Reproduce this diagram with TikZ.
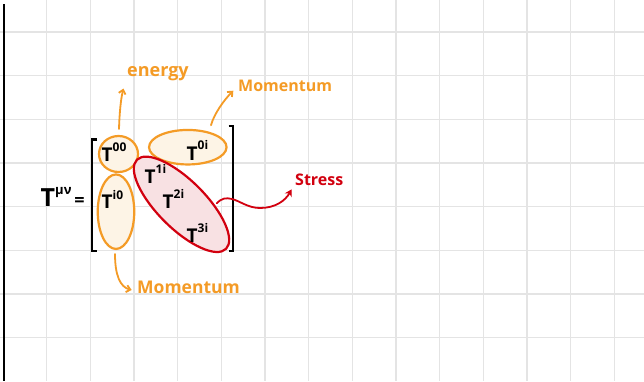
\documentclass[tikz,border=0pt]{standalone}
\usepackage{fontspec}
\setmainfont{Open Sans}
\usetikzlibrary{shapes.geometric,arrows.meta}
\definecolor{gridc}{HTML}{E4E4E4}
\definecolor{orng}{HTML}{F49B26}
\definecolor{cream}{HTML}{FDF4E6}
\definecolor{redd}{HTML}{D2000F}
\definecolor{pinkf}{HTML}{F8E1E3}
\newcommand\Tsup[2][10pt]{T\raisebox{#1}{\fontsize{12pt}{12pt}\selectfont #2}}
\tikzset{
  gridline/.style={draw=gridc,line width=1.4pt},
  oell/.style={ellipse,draw=orng,fill=cream,line width=2.2pt,inner sep=0pt},
  rell/.style={ellipse,draw=redd,fill=pinkf,line width=2.2pt,inner sep=0pt},
  brk/.style={draw=black,line width=2.2pt},
  tlbl/.style={anchor=base west,inner sep=0pt,font=\fontsize{19pt}{19pt}\selectfont\bfseries},
  olbl/.style={anchor=base west,inner sep=0pt,text=orng},
  oarr/.style={draw=orng,line width=1.8pt,line cap=round,-{Straight Barb[length=4pt,width=7pt]}},
  rarr/.style={draw=redd,line width=1.8pt,line cap=round,-{Stealth[length=7pt,width=8pt]}}
}
\begin{document}
\begin{tikzpicture}[x=1pt,y=-1pt]
\useasboundingbox (0,0) rectangle (644,381);
\fill[white] (0,0) rectangle (644,381);
% grid
\foreach \k in {0,...,13} \draw[gridline] ({46.7+43.66*\k},0) -- ({46.7+43.66*\k},381);
\foreach \k in {0,...,7} \draw[gridline] (0,{32+43.66*\k}) -- (644,{32+43.66*\k});
% margin line
\draw[line width=2.6pt] (4,4) -- (4,381);
% ellipses
\node[oell,minimum width=39pt,minimum height=36pt] (e00) at (118.5,154) {};
\node[oell,minimum width=36.5pt,minimum height=74.5pt] (ei0) at (116,211.7) {};
\node[oell,minimum width=77.5pt,minimum height=34.5pt] (e0i) at (187.8,147.2) {};
\node[rell,minimum width=126pt,minimum height=48pt,rotate=-45] (es) at (181.5,204.3) {};
% brackets
\draw[brk] (97,139.5) -- (92,139.5) -- (92,250.7) -- (97,250.7);
\draw[brk] (228.5,126) -- (233.3,126) -- (233.3,250.7) -- (228.5,250.7);
% tensor entries
\node[tlbl] (t00) at (101.5,161) {\Tsup[10pt]{00}};
\node[tlbl] (ti0) at (101.5,208) {\Tsup[9pt]{i0}};
\node[tlbl] (t0i) at (186.5,160) {\Tsup[11pt]{0i}};
\node[tlbl] (t1i) at (144.5,183) {\Tsup[10pt]{1i}};
\node[tlbl] (t2i) at (162.5,208) {\Tsup[10pt]{2i}};
\node[tlbl] (t3i) at (186.5,242) {\Tsup[10pt]{3i}};
% T^{mu nu} =
\node[anchor=base west,inner sep=0pt,font=\fontsize{25pt}{25pt}\selectfont\bfseries] (tmn) at (40.5,206.7) {T\raisebox{12pt}{\fontsize{13pt}{13pt}\selectfont μν}};
\node[inner sep=0pt,font=\fontsize{18pt}{18pt}\selectfont\bfseries] (eq) at (79.5,201.5) {=};
% labels
\node[olbl,font=\fontsize{18pt}{18pt}\selectfont\bfseries] (lenergy) at (127,76) {energy};
\node[olbl,font=\fontsize{16pt}{16pt}\selectfont\bfseries] (lmom1) at (238,91) {Momentum};
\node[olbl,font=\fontsize{17.5pt}{17.5pt}\selectfont\bfseries] (lmom2) at (137,293) {Momentum};
\node[anchor=base west,inner sep=0pt,text=redd,font=\fontsize{16pt}{16pt}\selectfont\bfseries] (lstress) at (295,185) {Stress};
% arrow tips
\coordinate (tipE) at (123.5,88.5);
\coordinate (tipM1) at (233.3,90.7);
\coordinate (tipM2) at (131.7,290);
\coordinate (tipS) at (291.7,189.3);
% arrows
\draw[oarr] ([shift={(0.5,-6)}]e00.north) .. controls (119.5,112) and (121,98) .. (tipE);
\draw[oarr] ([shift={(-5,-9)}]e0i.north east) .. controls (214,114) and (224,100) .. (tipM1);
\draw[oarr] ([shift={(-1,4)}]ei0.south) .. controls (115,275) and (120,287) .. (tipM2);
\draw[rarr] (216.7,203.3) .. controls (222,198) and (226,197.5) .. (232,199) .. controls (240,201) and (248,208) .. (260,208) .. controls (275,208) and (285,201) .. (tipS);
\end{tikzpicture}
\end{document}
